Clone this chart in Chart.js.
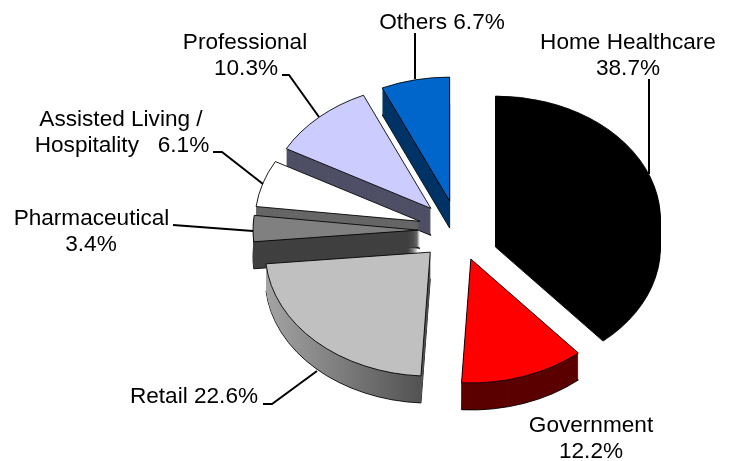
<!DOCTYPE html>
<html>
<head>
<meta charset="utf-8">
<style>html,body{margin:0;padding:0;background:#fff}canvas{display:block}</style>
<script src="https://cdn.jsdelivr.net/npm/chart.js@4"></script>
</head>
<body>
<canvas id="c" width="730" height="461"></canvas>
<script>
const categories = ['Home Healthcare','Government','Retail','Pharmaceutical','Assisted Living / Hospitality','Professional','Others'];
const shares = [38.7,12.2,22.6,3.4,6.1,10.3,6.7];
const topColors = ['#000000','#ff0000','#c0c0c0','#808080','#ffffff','#ccccff','#0066cc'];
const sideColors = ['#000000','#5c0000',['#a4a4a4','#4e4e4e'],'#404040','#666666','#4f4f66','#003366'];
const paintOrder = [6,5,4,3,2,0,1];
const explode = 40, tilt = 0.7515, depth = 27;
const labelLines = [
  ['Home Healthcare',628,49],['38.7%',628,75],
  ['Government',591,432],['12.2%',591,458],
  ['Retail 22.6%',194,403],
  ['Pharmaceutical',91.5,225],['3.4%',91,251],
  ['Assisted Living /',121,126],['Hospitality   6.1%',122,152],
  ['Professional',245,49],['10.3%',246,75],
  ['Others 6.7%',442,29]
];
const leaders = [
  [[649,79],[649,174]],
  [[263,404],[272,404],[317,371]],
  [[173,225],[253,231]],
  [[213,152],[222,152],[263,184]],
  [[282,75],[289,75],[319,117]],
  [[415,33],[415,79]]
];

const tiltedPie = {
  id:'tiltedPie',
  beforeDatasetsDraw(chart){
    const ctx = chart.ctx, arcs = chart.getDatasetMeta(0).data;
    const paint = (el, fill, stroke, dy, ox, oy) => {
      const saved = el.options;
      el.options = Object.assign({}, saved, {backgroundColor:fill, borderColor:stroke||'#000', borderWidth:stroke?1:0});
      ctx.save();
      ctx.translate(ox, dy + el.y);
      ctx.scale(1, tilt);
      ctx.translate(0, oy - el.y);
      el.draw(ctx);
      ctx.restore();
      el.options = saved;
    };
    paintOrder.forEach(i => {
      const el = arcs[i];
      const mid = (el.startAngle + el.endAngle) / 2;
      const ox = Math.cos(mid) * explode, oy = Math.sin(mid) * explode;
      let side = sideColors[i];
      if (Array.isArray(side)) {
        const g = ctx.createLinearGradient(el.x - el.outerRadius, 0, el.x, 0);
        g.addColorStop(0, side[0]); g.addColorStop(1, side[1]);
        side = g;
      }
      paint(el, side, '#000', depth, ox, oy);
      for (let d = depth - 1; d >= 1; d--) paint(el, side, null, d, ox, oy);
      paint(el, topColors[i], '#000', 0, ox, oy);
    });
    return false;
  },
  afterDraw(chart){
    const ctx = chart.ctx;
    ctx.save();
    ctx.strokeStyle = '#000'; ctx.lineWidth = 2;
    leaders.forEach(l => {
      ctx.beginPath();
      l.forEach((p,j) => j ? ctx.lineTo(p[0],p[1]) : ctx.moveTo(p[0],p[1]));
      ctx.stroke();
    });
    ctx.fillStyle = '#000';
    ctx.font = '22.6px "Liberation Sans", Arial, sans-serif';
    ctx.textAlign = 'center'; ctx.textBaseline = 'alphabetic';
    labelLines.forEach(t => ctx.fillText(t[0], t[1], t[2]));
    ctx.restore();
  }
};

new Chart(document.getElementById('c'), {
  type:'pie',
  data:{labels:categories, datasets:[{data:shares, backgroundColor:topColors, borderWidth:0}]},
  options:{
    responsive:false, animation:false, radius:165,
    layout:{padding:{left:186,right:0,top:0,bottom:0}},
    plugins:{legend:{display:false},tooltip:{enabled:false},title:{display:false}}
  },
  plugins:[tiltedPie]
});
</script>
</body>
</html>
